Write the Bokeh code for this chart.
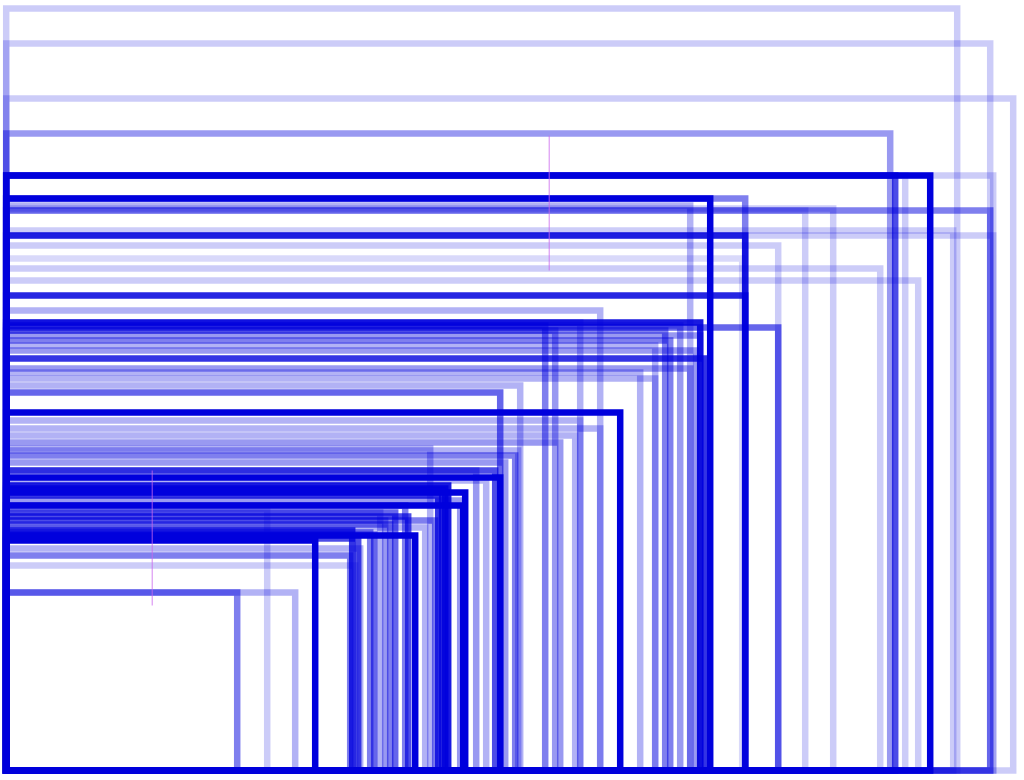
from bokeh.plotting import figure
from bokeh.models import ColumnDataSource, Range1d
from bokeh.embed import file_html
from bokeh.resources import INLINE

# rectangles anchored at the origin: width, height, opacity
widths = [951, 984, 1007, 884, 924, 889, 987, 704, 739, 984,
          739, 987, 772, 736, 874, 912, 739, 594, 694, 772,
          694, 649, 699, 684, 649, 514, 494, 614, 574, 594,
          569, 554, 424, 509, 499, 489, 494, 442, 459, 454,
          457, 374, 429, 419, 409, 309, 354, 344, 349, 231,
          289, 261, 346, 364, 379, 389, 399, 432, 439, 539,
          549, 574, 659, 674, 634, 827, 799, 899, 947, 684,
          352, 368, 384, 402, 436, 470, 480, 512, 664, 690]
heights = [762, 727, 672, 637, 595, 595, 595, 572, 572, 560,
           535, 535, 525, 512, 502, 490, 475, 460, 448, 443,
           435, 425, 412, 402, 392, 385, 378, 358, 350, 342,
           335, 328, 322, 315, 308, 300, 293, 285, 278, 270,
           265, 258, 250, 243, 235, 230, 222, 215, 205, 178,
           178, 262, 240, 238, 250, 258, 265, 275, 282, 445,
           440, 448, 440, 445, 398, 562, 560, 595, 540, 565,
           232, 236, 246, 254, 280, 300, 290, 320, 430, 420]
alphas = [0.2, 0.2, 0.2, 0.4, 1.0, 0.7, 0.2, 1.0, 0.5, 0.5,
          0.85, 0.2, 0.2, 0.15, 0.2, 0.2, 0.85, 0.3, 0.9, 0.6,
          0.4, 0.3, 0.8, 0.4, 0.3, 0.3, 0.6, 1.0, 0.3, 0.3,
          0.3, 0.4, 0.3, 0.5, 0.4, 0.7, 1.0, 0.9, 1.0, 0.4,
          1.0, 0.3, 0.5, 0.3, 1.0, 1.0, 0.3, 0.5, 0.2, 0.5,
          0.3, 0.2, 0.8, 0.5, 0.4, 0.6, 0.5, 0.8, 0.9, 0.5,
          0.4, 0.3, 0.5, 0.4, 0.3, 0.2, 0.2, 0.2, 0.2, 0.3,
          0.7, 0.6, 0.5, 0.7, 0.8, 0.4, 0.3, 0.3, 0.5, 0.4]

# thin vertical markers
seg_x = [543, 146]
seg_y0 = [500, 165]
seg_y1 = [635, 300]

W, H = 1024, 780
p = figure(width=W, height=H, output_backend="svg", toolbar_location=None,
           x_range=Range1d(-5.7, -5.7 + W), y_range=Range1d(-10, -10 + H),
           min_border=0, outline_line_color=None)
p.axis.visible = False
p.grid.visible = False
p.background_fill_color = "white"
p.border_fill_color = "white"

src = ColumnDataSource(dict(left=[0] * len(widths), bottom=[0] * len(widths),
                            right=widths, top=heights, a=alphas))
p.quad(left="left", bottom="bottom", right="right", top="top", source=src,
       fill_alpha=0, line_color="#0000dd", line_alpha="a", line_width=6.5,
       line_join="miter")

p.segment(x0=seg_x, y0=seg_y0, x1=seg_x, y1=seg_y1, line_color="#cc66ee",
          line_alpha=0.8, line_width=1)

open("out.html", "w").write(file_html(p, INLINE))
